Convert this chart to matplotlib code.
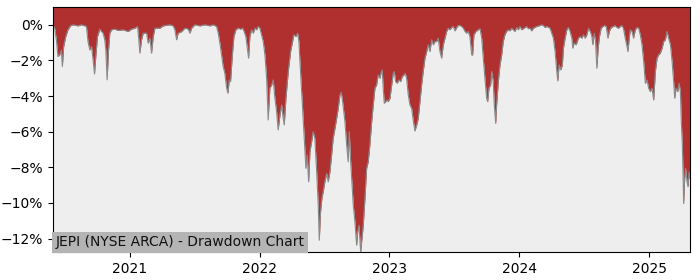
import datetime as dt
import matplotlib
matplotlib.use("Agg")
import matplotlib.pyplot as plt
import matplotlib.dates as mdates
from matplotlib.ticker import PercentFormatter

title_text = "JEPI (NYSE ARCA) - Drawdown Chart"

# time in decimal years, drawdown in percent
dates_decimal = [
    2020.409, 2020.422, 2020.435, 2020.447, 2020.460, 2020.473, 2020.481, 2020.491, 2020.507, 2020.524,
    2020.543, 2020.563, 2020.601, 2020.628, 2020.666, 2020.678, 2020.692, 2020.705, 2020.717, 2020.728,
    2020.738, 2020.751, 2020.769, 2020.782, 2020.794, 2020.807, 2020.815, 2020.825, 2020.836, 2020.846,
    2020.859, 2020.884, 2020.910, 2020.948, 2020.987, 2021.013, 2021.039, 2021.059, 2021.069, 2021.077,
    2021.090, 2021.103, 2021.129, 2021.141, 2021.154, 2021.167, 2021.180, 2021.193, 2021.231, 2021.257,
    2021.308, 2021.334, 2021.347, 2021.360, 2021.372, 2021.399, 2021.424, 2021.450, 2021.463, 2021.476,
    2021.501, 2021.540, 2021.578, 2021.617, 2021.642, 2021.668, 2021.681, 2021.694, 2021.707, 2021.719,
    2021.732, 2021.746, 2021.756, 2021.766, 2021.776, 2021.789, 2021.802, 2021.817, 2021.835, 2021.854,
    2021.869, 2021.881, 2021.894, 2021.904, 2021.915, 2021.925, 2021.938, 2021.951, 2021.964, 2021.977,
    2021.989, 2022.002, 2022.015, 2022.028, 2022.041, 2022.054, 2022.066, 2022.079, 2022.093, 2022.105,
    2022.118, 2022.131, 2022.143, 2022.157, 2022.170, 2022.182, 2022.190, 2022.203, 2022.221, 2022.239,
    2022.254, 2022.264, 2022.280, 2022.293, 2022.303, 2022.311, 2022.324, 2022.336, 2022.349, 2022.357,
    2022.367, 2022.378, 2022.388, 2022.401, 2022.413, 2022.426, 2022.440, 2022.452, 2022.460, 2022.470,
    2022.480, 2022.490, 2022.503, 2022.517, 2022.529, 2022.542, 2022.555, 2022.567, 2022.581, 2022.594,
    2022.606, 2022.619, 2022.629, 2022.640, 2022.658, 2022.671, 2022.683, 2022.691, 2022.702, 2022.722,
    2022.735, 2022.748, 2022.756, 2022.766, 2022.779, 2022.789, 2022.799, 2022.812, 2022.825, 2022.837,
    2022.850, 2022.864, 2022.876, 2022.889, 2022.902, 2022.914, 2022.928, 2022.935, 2022.945, 2022.953,
    2022.961, 2022.972, 2022.982, 2022.992, 2023.005, 2023.018, 2023.030, 2023.038, 2023.049, 2023.061,
    2023.074, 2023.087, 2023.100, 2023.113, 2023.123, 2023.133, 2023.146, 2023.159, 2023.172, 2023.184,
    2023.197, 2023.211, 2023.223, 2023.236, 2023.249, 2023.261, 2023.275, 2023.288, 2023.300, 2023.313,
    2023.326, 2023.339, 2023.352, 2023.365, 2023.377, 2023.390, 2023.403, 2023.416, 2023.429, 2023.442,
    2023.454, 2023.467, 2023.480, 2023.493, 2023.506, 2023.519, 2023.531, 2023.544, 2023.557, 2023.570,
    2023.583, 2023.596, 2023.608, 2023.621, 2023.635, 2023.642, 2023.652, 2023.668, 2023.685, 2023.699,
    2023.712, 2023.724, 2023.737, 2023.750, 2023.758, 2023.768, 2023.781, 2023.789, 2023.801, 2023.809,
    2023.820, 2023.827, 2023.840, 2023.853, 2023.866, 2023.878, 2023.891, 2023.904, 2023.917, 2023.930,
    2023.943, 2023.955, 2023.968, 2023.982, 2023.994, 2024.007, 2024.020, 2024.032, 2024.046, 2024.059,
    2024.071, 2024.084, 2024.097, 2024.110, 2024.136, 2024.161, 2024.174, 2024.187, 2024.200, 2024.213,
    2024.238, 2024.251, 2024.264, 2024.277, 2024.290, 2024.298, 2024.308, 2024.321, 2024.333, 2024.341,
    2024.354, 2024.367, 2024.379, 2024.392, 2024.406, 2024.413, 2024.423, 2024.439, 2024.456, 2024.470,
    2024.483, 2024.495, 2024.508, 2024.521, 2024.534, 2024.547, 2024.560, 2024.567, 2024.578, 2024.588,
    2024.598, 2024.608, 2024.618, 2024.631, 2024.645, 2024.657, 2024.670, 2024.683, 2024.695, 2024.709,
    2024.726, 2024.739, 2024.752, 2024.765, 2024.778, 2024.791, 2024.803, 2024.816, 2024.830, 2024.837,
    2024.847, 2024.855, 2024.868, 2024.880, 2024.894, 2024.907, 2024.919, 2024.932, 2024.945, 2024.958,
    2024.971, 2024.984, 2024.996, 2025.009, 2025.022, 2025.035, 2025.048, 2025.061, 2025.073, 2025.086,
    2025.100, 2025.112, 2025.125, 2025.138, 2025.150, 2025.164, 2025.177, 2025.189, 2025.197, 2025.207,
    2025.220, 2025.231, 2025.241, 2025.248, 2025.256, 2025.261, 2025.266, 2025.274, 2025.281, 2025.292,
    2025.300, 2025.308, 2025.315,
]

drawdown_pct = [
    0.0, -0.19, -0.84, -1.78, -1.69, -1.41, -2.34, -1.22, -0.66, -0.28,
    -0.06, 0.0, -0.06, 0.0, -0.09, -0.94, -1.41, -1.22, -1.97, -2.76,
    -1.78, -0.66, -0.24, -0.38, -0.47, -0.84, -1.41, -3.09, -1.41, -0.47,
    -0.28, -0.24, -0.32, -0.28, -0.38, -0.24, -0.19, -0.09, -0.84, -1.59,
    -0.84, -0.47, -0.47, -1.03, -0.75, -1.59, -0.66, -0.19, -0.19, -0.06,
    0.0, -0.06, -0.28, -0.84, -0.47, -0.38, -0.19, -0.24, -0.47, -0.19,
    0.0, -0.06, 0.0, -0.06, 0.0, -0.09, -0.47, -1.03, -1.69, -2.34,
    -2.72, -3.56, -3.84, -3.09, -3.19, -1.78, -0.66, -0.28, -0.19, -0.24,
    -0.19, -0.38, -0.66, -1.22, -1.87, -0.66, -0.28, -0.47, -0.19, -0.28,
    -0.09, -0.19, -0.56, -0.94, -1.69, -3.0, -5.34, -3.56, -3.37, -3.09,
    -4.12, -4.87, -5.9, -5.06, -4.5, -5.25, -5.62, -4.12, -2.62, -1.5,
    -0.94, -0.56, -0.66, -0.47, -0.94, -2.06, -3.75, -5.25, -6.94, -8.06,
    -7.31, -8.81, -7.12, -6.56, -6.0, -6.37, -8.25, -10.12, -12.09, -10.5,
    -9.75, -9.37, -8.81, -8.34, -8.81, -8.25, -7.31, -6.37, -5.81, -5.25,
    -4.69, -3.94, -3.79, -4.31, -5.44, -6.75, -7.69, -6.0, -7.69, -10.12,
    -11.06, -12.37, -11.62, -11.25, -12.75, -12.0, -11.25, -9.75, -8.06, -7.69,
    -6.75, -5.44, -4.5, -3.56, -3.37, -2.81, -3.0, -2.72, -2.53, -3.56,
    -4.4, -4.31, -4.22, -4.31, -4.12, -3.37, -2.72, -2.62, -3.19, -3.28,
    -3.09, -3.19, -2.9, -2.81, -2.72, -3.0, -3.94, -4.5, -4.69, -5.34,
    -5.96, -5.62, -5.25, -4.31, -3.37, -2.62, -1.87, -1.5, -1.12, -1.5,
    -0.84, -1.12, -0.94, -0.94, -0.75, -1.5, -1.87, -1.12, -0.75, -0.37,
    -0.19, -0.28, -0.15, -0.09, -0.34, -0.15, -0.04, -0.04, -0.09, -0.19,
    -0.37, -0.47, -0.37, -0.66, -1.69, -1.69, -0.56, -0.37, -0.28, -0.22,
    -0.75, -1.87, -3.0, -4.12, -4.31, -3.56, -3.37, -2.62, -3.19, -4.5,
    -5.53, -4.5, -3.19, -2.25, -1.69, -0.94, -0.56, -0.37, -0.28, -0.34,
    -0.19, -0.28, -0.37, -0.15, -0.28, -0.09, -0.28, -0.22, -0.15, -0.09,
    -0.22, -0.19, -0.34, -0.19, -0.09, -0.04, 0.0, -0.04, -0.15, -0.09,
    -0.19, -0.47, -0.75, -1.5, -2.62, -3.15, -2.25, -2.53, -2.25, -1.31,
    -0.75, -0.28, -0.15, -0.37, -0.75, -1.31, -1.03, -1.12, -0.75, -0.66,
    -0.75, -0.56, -0.75, -0.56, -0.19, -0.37, -0.66, -1.12, -0.47, -0.94,
    -2.44, -1.31, -0.66, -0.19, -0.09, -0.04, -0.09, -0.75, -0.34, -0.15,
    -0.09, -0.04, -0.15, -0.19, -0.09, -0.04, -0.22, -0.75, -1.22, -1.5,
    -0.75, -0.28, -0.37, -0.75, -0.28, -0.15, -0.19, -0.56, -1.12, -2.06,
    -3.28, -3.09, -3.56, -3.75, -3.56, -4.22, -2.62, -1.87, -1.69, -1.59,
    -1.31, -0.94, -0.84, -0.37, -0.75, -1.12, -2.06, -3.19, -4.12, -3.56,
    -3.75, -3.28, -3.75, -5.44, -6.75, -8.25, -10.03, -8.62, -8.06, -8.81,
    -9.09, -8.25, -8.62,
]


def to_datetime(y):
    year = int(y)
    start = dt.datetime(year, 1, 1)
    end = dt.datetime(year + 1, 1, 1)
    return start + (end - start) * (y - year)


dates = [to_datetime(v) for v in dates_decimal]

fig = plt.figure(figsize=(7, 2.8), dpi=100)
ax = fig.add_axes([0.0757, 0.1, 0.91, 0.875])
ax.set_facecolor("#eeeeee")

y_top = 1.0
ax.fill_between(dates, drawdown_pct, y_top, color="#b03030", linewidth=0)
ax.plot(dates, drawdown_pct, color="#8a8a8a", linewidth=0.8)

ax.set_xlim(dates[0], dates[-1])
ax.set_ylim(-12.75, y_top)
ax.set_yticks([0, -2, -4, -6, -8, -10, -12])
ax.yaxis.set_major_formatter(PercentFormatter(decimals=0))
ax.xaxis.set_major_locator(mdates.YearLocator())
ax.xaxis.set_major_formatter(mdates.DateFormatter("%Y"))
ax.tick_params(labelsize=10)

ax.text(0.004, 0.012, title_text, transform=ax.transAxes, ha="left", va="bottom",
        fontsize=10, color="#111111",
        bbox=dict(facecolor="#b4b4b4", edgecolor="none", pad=2.5))

fig.savefig("out.png", dpi=100)
